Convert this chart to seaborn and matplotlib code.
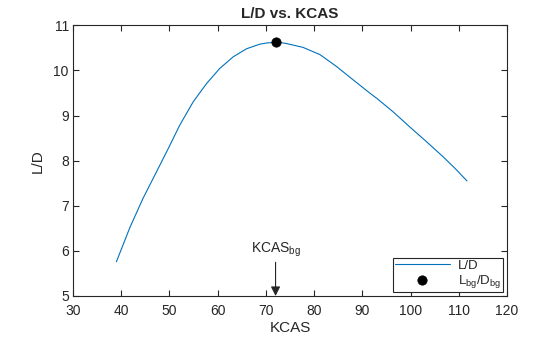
import matplotlib
matplotlib.use("Agg")
import matplotlib.pyplot as plt
import seaborn as sns
import pandas as pd

kcas = [39.0, 41.8, 44.5, 47.3, 49.9, 52.1, 54.9, 57.7, 60.4, 63.2, 66.0, 68.7,
        70.3, 72.0, 73.5, 74.9, 77.7, 81.2, 84.6, 88.1, 91.5, 93.0, 96.4, 99.8,
        103.3, 106.7, 109.2, 111.7]
ld = [5.76, 6.52, 7.16, 7.75, 8.30, 8.78, 9.30, 9.71, 10.04, 10.30, 10.48, 10.58,
      10.61, 10.62, 10.61, 10.58, 10.51, 10.35, 10.09, 9.79, 9.50, 9.38, 9.08, 8.75,
      8.42, 8.09, 7.83, 7.55]
kcas_bg = [72.0]
ld_bg = [10.62]
x_ticks = [30, 40, 50, 60, 70, 80, 90, 100, 110, 120]
y_ticks = [5, 6, 7, 8, 9, 10, 11]

sns.set_theme(style="ticks")
plt.rcParams['font.family'] = ['Liberation Sans', 'DejaVu Sans']
plt.rcParams['mathtext.fontset'] = 'custom'
plt.rcParams['mathtext.rm'] = 'Liberation Sans'
plt.rcParams['mathtext.it'] = 'Liberation Sans'

df = pd.DataFrame({"KCAS": kcas, "LD": ld})
dfb = pd.DataFrame({"KCAS": kcas_bg, "LD": ld_bg})

fig = plt.figure(figsize=(5.6, 3.37), dpi=100)
ax = fig.add_axes([0.1304, 0.1217, 0.9054 - 0.1304, 0.925 - 0.1217])

sns.lineplot(data=df, x="KCAS", y="LD", ax=ax, color="#0072BD", linewidth=0.8,
             label="L/D", sort=False)
sns.scatterplot(data=dfb, x="KCAS", y="LD", ax=ax, color="black", s=45,
                edgecolor="black", label=r"$\mathregular{L_{bg}/D_{bg}}$", zorder=5)

ax.annotate(r"$\mathregular{KCAS_{bg}}$", xy=(72, 5.0), xytext=(72, 5.82),
            ha="center", va="bottom", fontsize=10, color="#262626",
            arrowprops=dict(arrowstyle="-|>", color="#262626", lw=0.8,
                            mutation_scale=14, shrinkA=0, shrinkB=0))

ax.set_xlim(30, 120)
ax.set_ylim(5, 11)
ax.set_xticks(x_ticks)
ax.set_yticks(y_ticks)
ax.tick_params(direction="in", top=True, right=True, length=4, width=0.8,
               labelsize=10, colors="#262626", pad=3)
ax.tick_params(axis="x", pad=6)
for s in ax.spines.values():
    s.set_linewidth(0.8)
    s.set_color("#262626")
    s.set_visible(True)

ax.set_xlabel("KCAS", fontsize=11, color="#262626", labelpad=2)
ax.set_ylabel("L/D", fontsize=11, color="#262626", labelpad=6)
ax.set_title("L/D vs. KCAS", fontsize=11, fontweight="bold", color="#262626", pad=5)

leg = ax.legend(loc="lower right", fontsize=9.5, frameon=True, fancybox=False,
                edgecolor="#262626", framealpha=1, borderpad=0.15,
                handlelength=4.2, handletextpad=0.6, labelspacing=0.1,
                borderaxespad=0.3)
leg.get_frame().set_linewidth(0.8)

fig.savefig("out.png", dpi=100)
